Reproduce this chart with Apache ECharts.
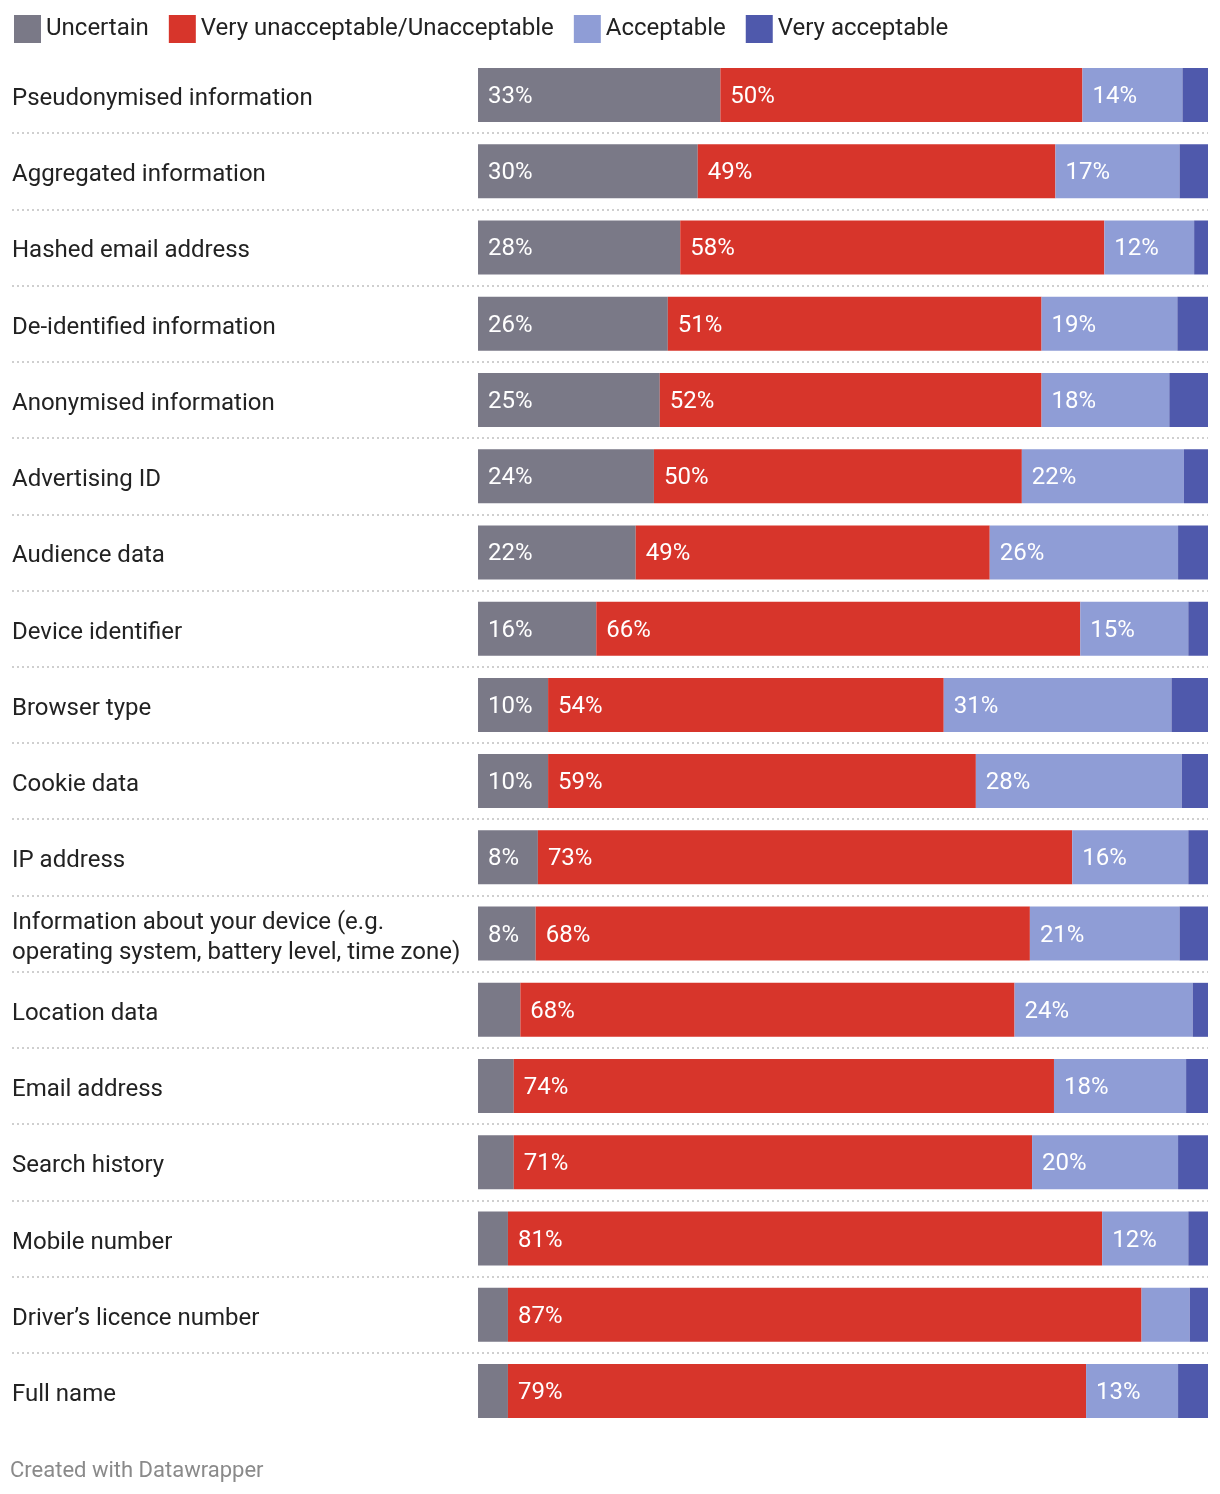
<!DOCTYPE html>
<html>
<head>
<meta charset="utf-8">
<script src="https://cdn.jsdelivr.net/npm/echarts@6/dist/echarts.min.js"></script>
<style>
html,body{margin:0;padding:0;background:#fff;}
#chart{width:1220px;height:1494px;}
</style>
</head>
<body>
<div id="chart"></div>
<script>
const categories = [
  "Pseudonymised information",
  "Aggregated information",
  "Hashed email address",
  "De-identified information",
  "Anonymised information",
  "Advertising ID",
  "Audience data",
  "Device identifier",
  "Browser type",
  "Cookie data",
  "IP address",
  "Information about your device (e.g.\noperating system, battery level, time zone)",
  "Location data",
  "Email address",
  "Search history",
  "Mobile number",
  "Driver\u2019s licence number",
  "Full name"
];
const uncertain      = [33.2, 30.1, 27.7, 26.0, 24.9, 24.1, 21.6, 16.2, 9.6, 9.6, 8.2, 7.9, 5.8, 4.9, 4.9, 4.1, 4.1, 4.1];
const unacceptable   = [49.6, 49.0, 58.1, 51.2, 52.3, 50.4, 48.5, 66.3, 54.2, 58.6, 73.2, 67.7, 67.7, 74.0, 71.0, 81.4, 86.8, 79.2];
const acceptable     = [13.7, 17.0, 12.3, 18.6, 17.5, 22.2, 25.8, 14.8, 31.2, 28.2, 15.9, 20.5, 24.4, 18.1, 20.0, 11.8, 6.6, 12.6];
const veryAcceptable = [3.5, 3.9, 1.9, 4.2, 5.3, 3.3, 4.1, 2.7, 5.0, 3.8, 2.7, 3.9, 2.1, 3.0, 4.1, 2.7, 2.5, 4.1];

const seriesNames = ["Uncertain", "Very unacceptable/Unacceptable", "Acceptable", "Very acceptable"];
const colors = ["#7a7987", "#d7352b", "#8f9dd6", "#4f59ac"];
const FONT = "Roboto, 'Noto Sans', sans-serif";

const chart = echarts.init(document.getElementById('chart'), null, {renderer: 'canvas'});
const labelFmt = p => (p.value >= 7.5 ? Math.round(p.value) + '%' : '');
const mk = (name, data, color, showLabel) => ({
  name, type: 'bar', stack: 'total', data, barWidth: 54,
  itemStyle: {color},
  emphasis: {disabled: true},
  label: {
    show: showLabel, position: 'insideLeft', distance: 10, offset: [0, 2],
    formatter: labelFmt, color: '#fff', fontSize: 24, fontFamily: FONT
  }
});

chart.setOption({
  animation: false,
  textStyle: {fontFamily: FONT},
  legend: {
    left: 9, top: 10, itemWidth: 27, itemHeight: 28, itemGap: 20,
    icon: 'rect',
    textStyle: {fontSize: 24, color: '#222', fontFamily: FONT},
    data: seriesNames
  },
  grid: {left: 12, right: 12, top: 56.9, bottom: 64.9, containLabel: false},
  xAxis: {type: 'value', min: -63.84, max: 100, show: false},
  yAxis: {
    type: 'category', data: categories, inverse: true,
    axisLine: {show: false}, axisTick: {show: false},
    axisLabel: {
      inside: true, margin: 0, align: 'left', fontSize: 24, color: '#222', lineHeight: 30, fontFamily: FONT,
      formatter: v => v.split('\n').map(s => '{a|' + s + '}').join('\n'),
      rich: {a: {fontSize: 24, lineHeight: 30, color: '#222', fontFamily: FONT, padding: [8, 0, 0, 0]}}
    },
    splitLine: {
      show: true, showMinLine: false, showMaxLine: false,
      lineStyle: {color: '#cfcfcf', width: 2, type: [2, 3]}
    }
  },
  graphic: [{
    type: 'text', left: 10, top: 1460,
    style: {text: 'Created with Datawrapper', fontSize: 22, fill: '#8a8a8a', fontFamily: FONT}
  }],
  series: [
    mk(seriesNames[0], uncertain, colors[0], true),
    mk(seriesNames[1], unacceptable, colors[1], true),
    mk(seriesNames[2], acceptable, colors[2], true),
    mk(seriesNames[3], veryAcceptable, colors[3], false)
  ]
});
</script>
</body>
</html>
